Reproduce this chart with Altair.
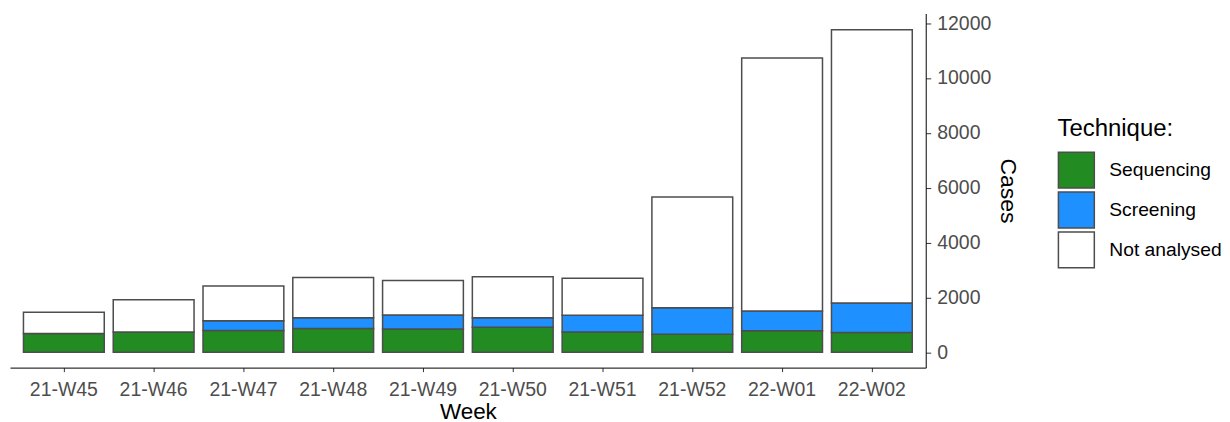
import altair as alt
import pandas as pd

weeks = ["21-W45", "21-W46", "21-W47", "21-W48", "21-W49", "21-W50",
         "21-W51", "21-W52", "22-W01", "22-W02"]
sequencing = [680, 740, 790, 870, 850, 910, 740, 655, 780, 725]
screening = [0, 0, 360, 390, 510, 350, 605, 970, 725, 1070]
not_analysed = [775, 1175, 1265, 1465, 1260, 1490, 1355, 4035, 9220, 9965]

techniques = ["Sequencing", "Screening", "Not analysed"]
colors = ["#228B22", "#1E90FF", "#FFFFFF"]

rows = []
for i, w in enumerate(weeks):
    for j, (t, vals) in enumerate(zip(techniques, [sequencing, screening, not_analysed])):
        rows.append({"Week": w, "Technique": t, "Cases": vals[i], "ord": j})
df = pd.DataFrame(rows)

FONT = "Liberation Sans"

chart = alt.Chart(df).mark_bar(stroke="#4D4D4D", strokeWidth=1.5).encode(
    x=alt.X("Week:N", sort=weeks, title="Week",
            scale=alt.Scale(paddingInner=0.1, paddingOuter=0.15),
            axis=alt.Axis(labelAngle=0, domainColor="#000000", tickColor="#333333",
                          tickSize=4, labelColor="#4D4D4D", labelFontSize=19.5,
                          labelPadding=8.5, titleFontSize=22.5, titleColor="#000000",
                          titleFontWeight="normal", titlePadding=2, labelFont=FONT, titleFont=FONT)),
    y=alt.Y("Cases:Q", stack="zero", title="Cases",
            scale=alt.Scale(domain=[-560, 12350], nice=False, zero=False),
            axis=alt.Axis(orient="right", values=[0, 2000, 4000, 6000, 8000, 10000, 12000],
                          format="d",
                          domainColor="#000000", tickColor="#333333", tickSize=5,
                          labelColor="#4D4D4D", labelFontSize=19.5, labelPadding=6,
                          titleFontSize=23, titleColor="#000000", titleFontWeight="normal",
                          titlePadding=5, labelFont=FONT, titleFont=FONT, grid=False)),
    color=alt.Color("Technique:N", sort=techniques,
                    scale=alt.Scale(domain=techniques, range=colors),
                    legend=alt.Legend(title="Technique:", orient="none", legendX=1050, legendY=104,
                                      symbolType="square", symbolSize=1296,
                                      symbolStrokeColor="#4D4D4D", symbolStrokeWidth=1.5,
                                      symbolOpacity=1, rowPadding=-4, labelOffset=14,
                                      labelFontSize=19.3, labelColor="#000000",
                                      titleFontSize=24, titleFontWeight="normal",
                                      titleColor="#000000", titlePadding=10,
                                      labelFont=FONT, titleFont=FONT)),
    order=alt.Order("ord:Q", sort="ascending"),
).properties(
    width=918, height=355,
    padding={"left": 2, "top": 4, "right": 0, "bottom": 0},
).configure(font=FONT, view=alt.ViewConfig(stroke=None))

chart.save("out.html", embed_options={"renderer": "svg", "actions": False})
